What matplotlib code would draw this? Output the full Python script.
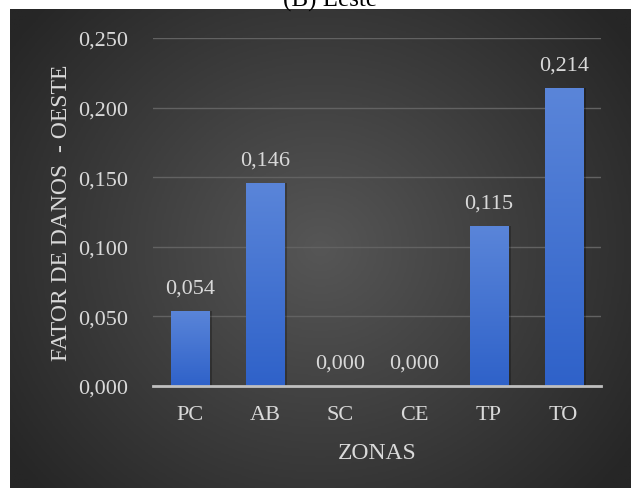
import numpy as np
import matplotlib.pyplot as plt
from matplotlib.colors import LinearSegmentedColormap

# damage factor per zone
zonas = ["PC", "AB", "SC", "CE", "TP", "TO"]
fator = [0.054, 0.146, 0.000, 0.000, 0.115, 0.214]
yticks = [0.000, 0.050, 0.100, 0.150, 0.200, 0.250]

W, H = 631, 489
plt.rcParams['font.family'] = ['Liberation Serif', 'DejaVu Serif']
txt = '#d9d9d9'
fs = 16

fig = plt.figure(figsize=(W / 100, H / 100), dpi=100)
fig.patch.set_facecolor('white')

# dark panel with radial gradient
bg = fig.add_axes([10 / W, 0, (W - 10) / W, (H - 10) / H])
bg.set_axis_off()
yy, xx = np.mgrid[0:1:300j, 0:1:400j]
r = np.sqrt(((xx - 0.5) / 0.62) ** 2 + ((yy - 0.5) / 0.75) ** 2)
bg_cmap = LinearSegmentedColormap.from_list('bg', ['#565656', '#262626'])
bg.imshow(r, cmap=bg_cmap, vmin=0, vmax=1.0, aspect='auto', extent=[0, 1, 0, 1])
bg.set_xlim(0, 1)
bg.set_ylim(0, 1)

fig.text(330 / W, 1 - 7 / H, "(B) Leste", ha='center', va='baseline',
         fontsize=18, color='black')

ax = fig.add_axes([153 / W, (H - 387) / H, 448 / W, 348 / H])
ax.patch.set_alpha(0)
x = np.arange(len(zonas))

bar_cmap = LinearSegmentedColormap.from_list('bar', ['#2f62c9', '#5a85d9'])
grad = np.linspace(0, 1, 100).reshape(-1, 1)
bw = 0.51
for xi, v in zip(x, fator):
    # soft shadow behind bar
    ax.bar(xi + 0.02, v, width=bw + 0.04, color='black', alpha=0.25, zorder=2)
    b = ax.bar(xi, v, width=bw, color='#4472c4', zorder=3)[0]
    if v > 0:
        im = ax.imshow(grad, cmap=bar_cmap, aspect='auto', origin='lower',
                       extent=[xi - bw / 2, xi + bw / 2, 0, v], zorder=4)
        im.set_clip_path(b)
    ax.text(xi, v + 0.0095, f"{v:.3f}".replace('.', ','), ha='center',
            va='bottom', fontsize=fs, color=txt, zorder=5)
ax.set_ylim(0, 0.250)
ax.set_xlim(-0.5, len(zonas) - 0.5)

ax.set_yticks(yticks)
ax.set_yticklabels([f"{t:.3f}".replace('.', ',') for t in yticks])
ax.set_xticks(x)
ax.set_xticklabels(zonas)
ax.tick_params(axis='both', length=0, labelsize=fs, colors=txt)
ax.tick_params(axis='y', pad=18)
ax.tick_params(axis='x', pad=14)
ax.grid(axis='y', color='#626262', linewidth=1, zorder=1)
ax.set_axisbelow(True)
for s in ['top', 'right', 'left']:
    ax.spines[s].set_visible(False)
ax.spines['bottom'].set_color('#bfbfbf')
ax.spines['bottom'].set_linewidth(2)
ax.spines['bottom'].set_zorder(6)

ax.set_xlabel("ZONAS", fontsize=17, color=txt, labelpad=13)
ax.set_ylabel("FATOR DE DANOS  - OESTE", fontsize=17, color=txt, labelpad=4)

fig.savefig("out.png", dpi=100)
